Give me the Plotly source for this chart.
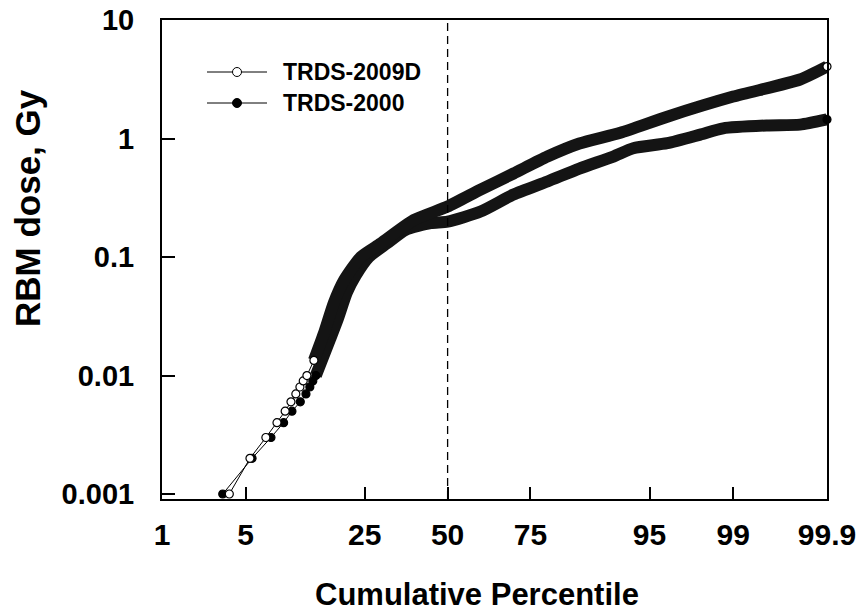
import plotly.graph_objects as go
from statistics import NormalDist

# ---------------- data ----------------
pct_2009d = [3.77, 5.37, 6.94, 8.23, 9.29, 10.10, 10.82, 11.45, 11.98, 12.59,
             13.81, 15.67, 17.70, 19.88, 23.98, 29.29, 39.12, 50.0, 60.57, 70.43,
             79.19, 85.84, 92.03, 96.32, 99.00, 99.795, 99.9]
dose_2009d = [0.001, 0.002, 0.003, 0.004, 0.005, 0.006, 0.007, 0.008, 0.009, 0.010,
              0.0134, 0.0226, 0.041, 0.063, 0.10, 0.13, 0.205, 0.267, 0.371, 0.507,
              0.705, 0.908, 1.12, 1.53, 2.26, 3.15, 4.05]

pct_2000 = [3.35, 5.56, 7.51, 9.08, 10.24, 11.51, 12.43, 13.09, 13.61, 14.16,
            16.87, 18.56, 20.58, 22.72, 26.04, 31.0, 36.65, 44.5, 50.0, 60.57,
            70.43, 79.19, 85.84, 91.15, 93.48, 96.32, 98.02, 98.76, 99.536, 99.795, 99.9]
dose_2000 = [0.001, 0.002, 0.003, 0.004, 0.005, 0.006, 0.007, 0.008, 0.009, 0.010,
             0.02, 0.03, 0.05, 0.07, 0.10, 0.13, 0.17, 0.193, 0.199, 0.242,
             0.337, 0.434, 0.558, 0.705, 0.828, 0.913, 1.08, 1.22, 1.29, 1.31, 1.45]

x_ticks = [1, 5, 25, 50, 75, 95, 99, 99.9]
x_tick_text = ["1", "5", "25", "50", "75", "95", "99", "99.9"]
y_ticks = [0.001, 0.01, 0.1, 1, 10]
y_tick_text = ["0.001", "0.01", "0.1", "1", "10"]
series_names = ["TRDS-2009D", "TRDS-2000"]
x_title = "Cumulative Percentile"
y_title = "RBM dose, Gy"

# ---------------- probability (normal) scale ----------------
nd = NormalDist()


def zq(p):
    return nd.inv_cdf(p / 100.0)


FONT = "Liberation Sans, Arial, sans-serif"

fig = go.Figure()


def add_series(pcts, doses, filled, sparse_max):
    zs = [zq(p) for p in pcts]
    fig.add_trace(go.Scatter(x=zs, y=doses, mode="lines",
                             line=dict(color="black", width=1),
                             showlegend=False, hoverinfo="skip"))
    dz = [z for z, d in zip(zs, doses) if d >= sparse_max]
    dd = [d for d in doses if d >= sparse_max]
    fig.add_trace(go.Scatter(x=dz, y=dd, mode="lines",
                             line=dict(color="#141414", width=12, shape="spline", smoothing=0.6),
                             showlegend=False, hoverinfo="skip", cliponaxis=False))
    mz = [z for z, d in zip(zs, doses) if d <= sparse_max] + [zs[-1]]
    md = [d for d in doses if d <= sparse_max] + [doses[-1]]
    fig.add_trace(go.Scatter(x=mz, y=md, mode="markers",
                             marker=dict(symbol="circle", size=8,
                                         color="black" if filled else "white",
                                         line=dict(color="black", width=1.2)),
                             showlegend=False, cliponaxis=False))


add_series(pct_2000, dose_2000, True, 0.010)
add_series(pct_2009d, dose_2009d, False, 0.0134)

fig.add_shape(type="line", xref="x", yref="paper", x0=zq(50), x1=zq(50), y0=0, y1=1,
              line=dict(color="black", width=1.3, dash="8px,5px"))

# ---------------- geometry (page has an 8px body offset) ----------------
OFF = 8
FIG_W, FIG_H = 864 - OFF, 614 - OFF
ML, MR, MT = 162 - OFF, 37, 20 - OFF
PW = FIG_W - ML - MR
PH = 479
MB = FIG_H - MT - PH


def px_to_paper(px, py):
    # px, py are window coordinates
    fx, fy = px - OFF, py - OFF
    return (fx - ML) / PW, (MT + PH - fy) / PH


for i, (name, filled) in enumerate(zip(series_names, [False, True])):
    py = 72 + 31 * i
    xa, ya = px_to_paper(207, py)
    xb, _ = px_to_paper(267, py)
    xm, _ = px_to_paper(237, py)
    xt, _ = px_to_paper(281, py)
    fig.add_shape(type="line", xref="paper", yref="paper", x0=xa, x1=xb, y0=ya, y1=ya,
                  line=dict(color="black", width=1))
    fig.add_shape(type="circle", xref="paper", yref="paper",
                  xsizemode="pixel", ysizemode="pixel", xanchor=xm, yanchor=ya,
                  x0=-4.5, x1=4.5, y0=-4.5, y1=4.5,
                  fillcolor="black" if filled else "white",
                  line=dict(color="black", width=1))
    fig.add_annotation(xref="paper", yref="paper", x=xt, y=ya, text=name,
                       showarrow=False, xanchor="left", yanchor="middle",
                       font=dict(family=FONT, size=23, color="black", weight="bold"))

# axis titles
tx, ty = px_to_paper(477, 594)
fig.add_annotation(xref="paper", yref="paper", x=tx, y=ty, text=x_title,
                   showarrow=False, xanchor="center", yanchor="middle",
                   font=dict(family=FONT, size=31, color="black", weight="bold"))
yx, yy = px_to_paper(27, 208)
fig.add_annotation(xref="paper", yref="paper", x=yx, y=yy, text=y_title, textangle=-90,
                   showarrow=False, xanchor="center", yanchor="middle",
                   font=dict(family=FONT, size=35, color="black", weight="bold"))

fig.update_layout(
    width=FIG_W, height=FIG_H,
    margin=dict(l=ML, r=MR, t=MT, b=MB, autoexpand=False),
    paper_bgcolor="white", plot_bgcolor="white",
    showlegend=False,
    font=dict(family=FONT, color="black", weight="bold"),
)

fig.update_xaxes(
    range=[zq(1), zq(99.9)],
    tickvals=[zq(p) for p in x_ticks], ticktext=x_tick_text,
    ticks="inside", ticklen=12, tickwidth=2, tickcolor="black",
    showline=True, linecolor="black", linewidth=2, mirror=True,
    showgrid=False, zeroline=False, automargin=False,
    tickfont=dict(family=FONT, size=30, weight="bold"),
    ticklabelstandoff=8, ticklabeloverflow="allow",
)
fig.update_yaxes(
    type="log", range=[-3.042, 1.0005],
    tickvals=y_ticks, ticktext=y_tick_text,
    ticks="inside", ticklen=13, tickwidth=2, tickcolor="black",
    showline=True, linecolor="black", linewidth=2, mirror=True,
    showgrid=False, zeroline=False, automargin=False,
    tickfont=dict(family=FONT, size=29, weight="bold"),
    ticklabelstandoff=20, ticklabeloverflow="allow",
)

fig.write_html("out.html")
